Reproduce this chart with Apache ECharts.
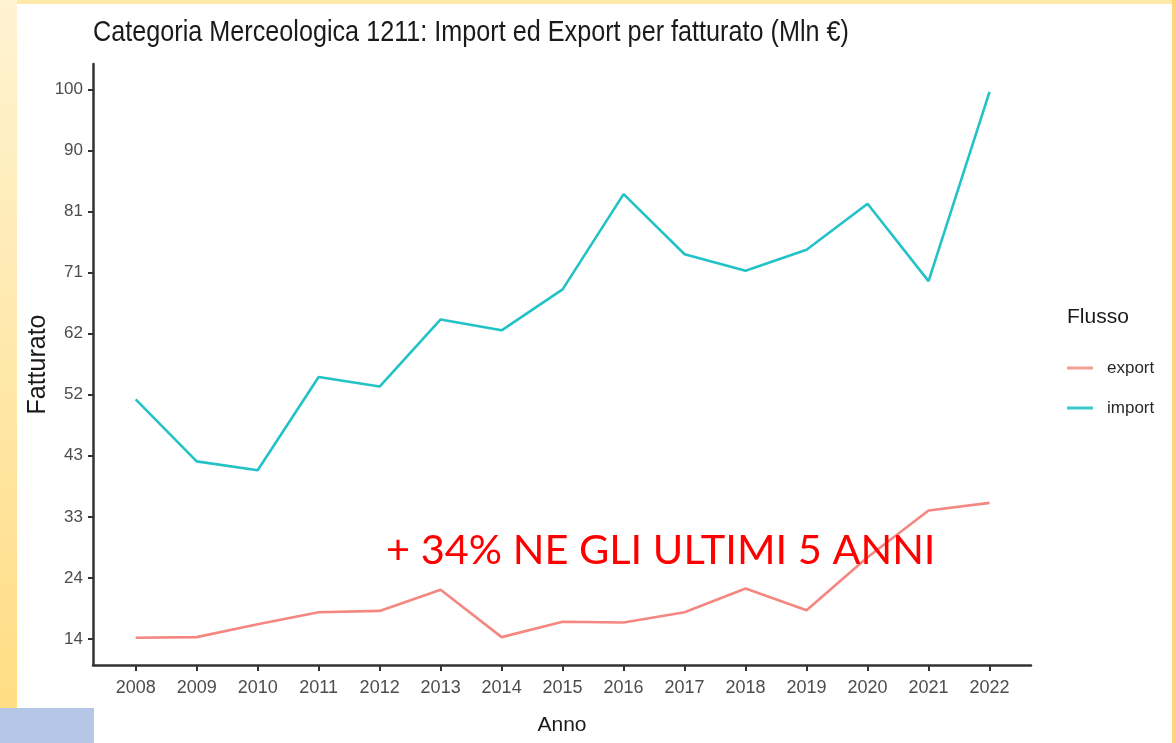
<!DOCTYPE html>
<html>
<head>
<meta charset="utf-8">
<script src="https://cdn.jsdelivr.net/npm/echarts@6/dist/echarts.min.js"></script>
<style>
html,body{margin:0;padding:0;background:#fff;}
#chart{width:1176px;height:743px;}
</style>
</head>
<body>
<div id="chart"></div>
<script>
const years = [2008,2009,2010,2011,2012,2013,2014,2015,2016,2017,2018,2019,2020,2021,2022];
const importValues = [51.5,41.8,40.4,55.0,53.5,64.0,62.3,68.7,83.6,74.2,71.6,74.9,82.1,70.0,99.6];
const exportValues = [14.2,14.3,16.3,18.2,18.4,21.7,14.3,16.7,16.6,18.2,21.9,18.5,26.8,34.1,35.3];
const yTickValues = [14,23.56,33.11,42.67,52.22,61.78,71.33,80.89,90.44,100];
const yTickLabels = ['14','24','33','43','52','62','71','81','90','100'];
const seriesNames = ['export','import'];

const chart = echarts.init(document.getElementById('chart'), null, {renderer:'canvas'});
const sans = '"Liberation Sans", Arial, sans-serif';

function yLabel(v){
  let best = 0, d = Infinity;
  yTickValues.forEach((t,i)=>{ if (Math.abs(t-v) < d){ d = Math.abs(t-v); best = i; } });
  return yTickLabels[best];
}

const option = {
  backgroundColor: '#ffffff',
  animation: false,
  title: [
    {
      text: 'Flusso',
      left: 1062, top: 302,
      textStyle: {fontFamily: sans, fontSize: 21, fontWeight: 'normal', color: '#1a1a1a'}
    }
  ],
  legend: {
    orient: 'vertical',
    left: 1062, top: 353,
    itemWidth: 26, itemHeight: 3,
    itemGap: 20,
    icon: 'rect',
    data: seriesNames,
    textStyle: {fontFamily: sans, fontSize: 17, color: '#2a2a2a', lineHeight: 20, padding: [0,0,0,9]}
  },
  grid: {left: 93, right: 145, top: 64, bottom: 78, containLabel: false},
  xAxis: {
    type: 'value',
    min: 2007.30, max: 2022.68,
    name: 'Anno', nameLocation: 'middle', nameGap: 50,
    nameTextStyle: {fontFamily: sans, fontSize: 21, color: '#1a1a1a'},
    axisLine: {show: true, lineStyle: {color: '#333', width: 2.5}},
    axisTick: {show: true, length: 6, customValues: years, lineStyle: {color: '#333', width: 2}},
    axisLabel: {customValues: years, margin: 14, fontFamily: sans, fontSize: 18, color: '#4d4d4d',
      formatter: v => String(v)},
    splitLine: {show: false}
  },
  yAxis: {
    type: 'value',
    min: 9.94, max: 103.96,
    name: 'Fatturato', nameLocation: 'middle', nameGap: 42, nameRotate: 90,
    nameMoveOverlap: false,
    nameTextStyle: {fontFamily: sans, fontSize: 25, color: '#1a1a1a'},
    axisLine: {show: true, lineStyle: {color: '#333', width: 2.5}},
    axisTick: {show: true, length: 5, customValues: yTickValues, lineStyle: {color: '#333', width: 2}},
    axisLabel: {customValues: yTickValues, margin: 10, fontFamily: sans, fontSize: 17, color: '#4d4d4d',
      formatter: v => yLabel(v)},
    splitLine: {show: false}
  },
  series: [
    {
      name: 'export', type: 'line', showSymbol: false, symbol: 'none',
      data: years.map((y,i)=>[y, exportValues[i]]),
      lineStyle: {color: '#F4877F', width: 2.6},
      itemStyle: {color: '#F4A09A'},
      z: 3
    },
    {
      name: 'import', type: 'line', showSymbol: false, symbol: 'none',
      data: years.map((y,i)=>[y, importValues[i]]),
      lineStyle: {color: '#22C2C7', width: 2.6},
      itemStyle: {color: '#3CC6CA'},
      z: 3
    }
  ],
  graphic: [
    {type: 'rect', z: -10, shape: {x: 0, y: 0, width: 1176, height: 4}, style: {fill: '#FFE9A6'}},
    {type: 'rect', z: -10, shape: {x: 0, y: 0, width: 17, height: 743},
      style: {fill: new echarts.graphic.LinearGradient(0,0,0,1,[{offset:0,color:'#FFF3D2'},{offset:1,color:'#FFDC80'}])}},
    {type: 'rect', z: -10, shape: {x: 1172, y: 0, width: 4, height: 743}, style: {fill: '#FFD57A'}},
    {type: 'rect', z: -9, shape: {x: 0, y: 708, width: 94, height: 35}, style: {fill: '#B4C7E7'}},
    {type: 'text', z: 50, x: 93, y: 18, scaleX: 0.84,
      style: {text: 'Categoria Merceologica 1211: Import ed Export per fatturato (Mln €)', fill: '#1a1a1a',
        font: '30px "Liberation Sans", Arial, sans-serif', textAlign: 'left', textVerticalAlign: 'top'}},
    {type: 'text', z: 100, x: 386, y: 551,
      style: {text: '+ 34% NE GLI ULTIMI 5 ANNI', fill: '#FF0000', font: '41.5px Lato, "Open Sans", sans-serif',
        textAlign: 'left', textVerticalAlign: 'middle'}}
  ]
};
chart.setOption(option);
</script>
</body>
</html>
